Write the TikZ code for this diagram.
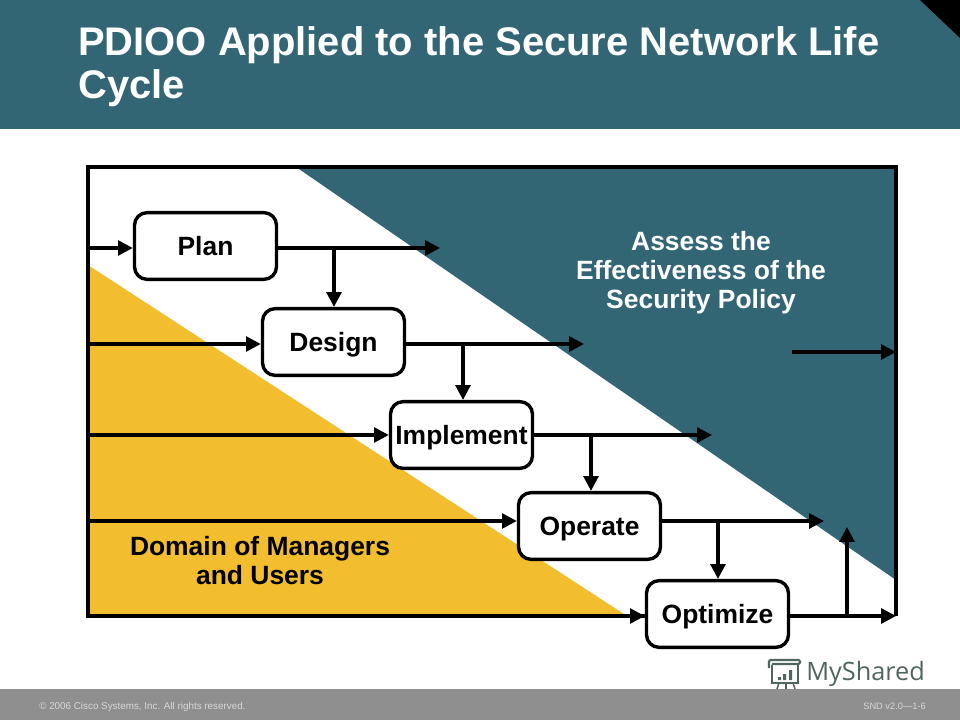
\documentclass[tikz,border=0pt]{standalone}
\usepackage{fontspec}
\setmainfont{Liberation Sans}
\newfontfamily\logofont{Open Sans}
\usepackage{tikz}
\usetikzlibrary{positioning,calc,arrows.meta}
\definecolor{ciscoteal}{HTML}{336675}
\definecolor{ciscogold}{HTML}{F2BD2E}
\definecolor{footgray}{HTML}{8F8F8F}
\definecolor{logogray}{HTML}{51655F}
\tikzset{
  stagebox/.style={draw,line width=2.4pt,rounded corners=9pt,fill=white,minimum width=101pt,minimum height=47.5pt,inner sep=0pt,text depth=0pt,font=\fontsize{18.8}{22}\selectfont\bfseries},
  flow/.style={line width=2.3pt,-{Triangle[length=10.5pt,width=10.5pt]}},
  edge/.style={line width=2.4pt},
  bigtext/.style={font=\fontsize{18.8}{20.4}\selectfont\bfseries,align=center},
  foottext/.style={white!65!footgray,inner sep=0pt,font=\fontsize{7}{8}\selectfont},
}
\begin{document}
\begin{tikzpicture}[x=0.025cm,y=-0.025cm]
\useasboundingbox (0,0) rectangle (960,720);

% header and footer
\fill[ciscoteal] (0,0) rectangle (960,129);
\fill[black] (920,0)--(960,0)--(960,38)--cycle;
\fill[footgray] (0,689) rectangle (960,720);
\node[anchor=west,white,inner sep=0pt,align=left,font=\fontsize{28.4}{30.6}\selectfont\bfseries] (title) at (78,66.5) {PDIOO Applied to the Secure Network Life\\Cycle};
\node[anchor=west,foottext] (copyr) at (39,706.5) {\textcopyright{} 2006 Cisco Systems, Inc. All rights reserved.};
\node[anchor=east,foottext,font=\fontsize{6.6}{8}\selectfont] (slide) at (926,706.5) {SND v2.0---1-6};

% coloured regions
\fill[ciscoteal] (296,167)--(896,167)--(896,580)--cycle;
\fill[ciscogold] (88,265)--(88,616)--(627,616)--cycle;

% frame
\draw[edge] (645,616)--(88,616)--(88,167)--(896,167)--(896,616);

\node[bigtext,white] (assess) at (701,272.5) {Assess the\\Effectiveness of the\\Security Policy};
\node[bigtext] (domain) at (260,560.5) {Domain of Managers\\and Users};

\node[stagebox] (plan) at (205.5,246) {Plan};
\node[stagebox] (design) at (333.5,342) {Design};
\node[stagebox] (implement) at (461.5,435) {Implement};
\node[stagebox] (operate) at (589.5,526) {Operate};
\node[stagebox] (optimize) at (717.5,614) {Optimize};

\coordinate (inplan) at (88,248);
\coordinate (indesign) at (88,344);
\coordinate (inimplement) at (88,435);
\coordinate (inoperate) at (88,521);
\coordinate (inoptimize) at (523,616);
\coordinate (outplan) at (440,248);
\coordinate (outdesign) at (584,344);
\coordinate (outimplement) at (712,435);
\coordinate (outoperate) at (824,521);
\coordinate (outoptimize) at (896,616);
\coordinate (tapplan) at (334,248);
\coordinate (tapdesign) at (463,344);
\coordinate (tapimplement) at (591,435);
\coordinate (tapoperate) at (718,521);
\coordinate (tapoptimize) at (847,616);
\coordinate (uptip) at (847,527);
\coordinate (policya) at (792,352);
\coordinate (policyb) at (896,352);

\draw[flow] (inplan)--(inplan-|plan.west);
\draw[flow] (indesign)--(indesign-|design.west);
\draw[flow] (inimplement)--(inimplement-|implement.west);
\draw[flow] (inoperate)--(inoperate-|operate.west);
\draw[flow] (inoptimize)--(inoptimize-|optimize.west);

\draw[flow] (outplan-|plan.east)--(outplan);
\draw[flow] (outdesign-|design.east)--(outdesign);
\draw[flow] (outimplement-|implement.east)--(outimplement);
\draw[flow] (outoperate-|operate.east)--(outoperate);
\draw[flow] (outoptimize-|optimize.east)--(outoptimize);

\draw[flow] (tapplan)--(tapplan|-design.north);
\draw[flow] (tapdesign)--(tapdesign|-implement.north);
\draw[flow] (tapimplement)--(tapimplement|-operate.north);
\draw[flow] (tapoperate)--(tapoperate|-optimize.north);
\draw[flow] (tapoptimize)--(uptip);
\draw[flow] (policya)--(policyb);

% logo
\node[anchor=west,logogray,inner sep=0pt,font=\logofont\fontsize{18}{20}\selectfont] (logo) at (806,674) {MyShared};
\draw[logogray,line width=1.3pt,fill=white] (772,664) rectangle (798,683);
\draw[logogray,line width=1.5pt,fill=white,rounded corners=1pt] (769,668) -- (769,660) -- (800,660) -- (800,664) -- (772,664);
\fill[logogray] (778,677) rectangle (781,680) (783,674) rectangle (786,680) (789,670) rectangle (792,680);
\draw[logogray,line width=1.1pt] (779,683)--(777,689) (786,683)--(786,689) (793,683)--(795,689);
\end{tikzpicture}
\end{document}
